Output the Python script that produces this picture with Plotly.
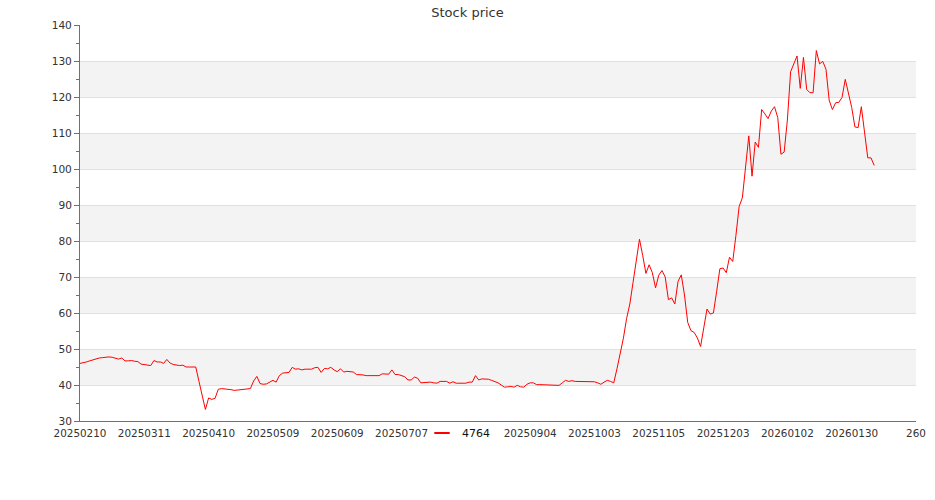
import plotly.graph_objects as go

# ---- data ----
series_name = "4764"

prices = [
    46.0, 46.1, 46.4, 46.7, 47.0, 47.3, 47.5, 47.6, 47.8, 47.8,
    47.7, 47.4, 47.2, 47.5, 46.7, 46.7, 46.8, 46.6, 46.5, 45.8,
    45.6, 45.5, 45.4, 46.8, 46.4, 46.4, 46.0, 47.1, 46.1, 45.7,
    45.5, 45.4, 45.5, 45.0, 45.0, 45.0, 45.0, 41.0, 37.0, 33.2,
    36.4, 36.0, 36.3, 38.8, 39.0, 38.9, 39.0, 38.7, 38.5, 38.6,
    38.7, 38.8, 39.0,
    39.0, 41.1, 42.4, 40.4, 40.2, 40.3, 40.8, 41.3, 40.8, 42.6,
    43.3, 43.5, 43.5, 44.9, 44.4, 44.5, 44.2, 44.4, 44.4, 44.4,
    44.8, 44.9, 43.5, 44.6, 44.5, 44.9, 44.2, 43.7, 44.5, 43.6,
    43.8, 43.8, 43.6, 42.9, 42.9, 42.8, 42.6, 42.6, 42.6, 42.6,
    42.6, 43.1, 43.1, 43.0, 44.2, 42.9, 42.9, 42.6, 42.3, 41.4,
    41.4, 42.2,
    41.9, 40.6, 40.7, 40.7, 40.8, 40.6, 40.5, 41.0, 41.0, 41.0,
    40.5, 40.9, 40.5, 40.5, 40.5, 40.5, 40.8, 40.8, 42.6, 41.4,
    41.7, 41.7, 41.6, 41.3, 41.0, 40.6, 40.0, 39.4, 39.5, 39.6,
    39.4, 39.9, 39.5, 39.4, 40.2, 40.6, 40.6, 40.1, 40.1, 40.1,
    40.0, 39.9, 39.9, 39.9, 39.9, 40.6, 41.3, 41.0, 41.2, 41.0,
    41.0, 41.0, 41.0, 41.1, 41.0, 40.9, 40.6, 40.2, 40.8, 41.3,
    41.0, 40.6,
    44.5, 48.5, 53.0, 58.5, 62.5, 68.5, 74.0, 80.5, 76.0, 71.0,
    73.4, 71.2, 67.0, 70.5, 71.8, 70.0, 63.7, 64.2, 62.5, 68.8,
    70.6, 65.0, 57.4, 55.1, 54.6, 53.1, 50.7, 55.5, 61.1, 59.7,
    60.0, 66.0, 72.3, 72.5, 71.2, 75.5, 74.3, 81.6, 89.6, 92.0,
    100.0, 109.2, 98.0, 107.5, 106.0, 116.5, 115.3, 114.0, 116.1, 117.3,
    114.3, 104.1, 104.7, 113.6, 127.0, 129.5, 131.4, 122.4, 131.0, 122.1,
    121.2, 121.2, 132.9, 129.2, 129.9, 127.7, 119.1, 116.5, 118.4, 118.5,
    119.9, 124.9, 121.2, 117.1, 111.7, 111.5, 117.3, 110.8, 103.1, 103.1,
    101.0,
]

tick_positions = [0, 20, 40, 60, 80, 100, 140, 160, 180, 200, 220, 240, 260]
tick_labels = ["20250210", "20250311", "20250410", "20250509", "20250609",
               "20250707", "20250904", "20251003", "20251105", "20251203",
               "20260102", "20260130", "260"]
axis_last_index = 260

y_min, y_max, y_step = 30, 140, 10

# ---- figure ----
x_idx = list(range(len(prices)))

fig = go.Figure()
fig.add_trace(go.Scatter(
    x=x_idx, y=prices, mode="lines",
    line=dict(color="#ff0000", width=1),
    showlegend=False, name=series_name,
))
# legend entry (short line symbol)
fig.add_trace(go.Scatter(
    x=[None], y=[None], mode="markers", name=series_name,
    marker=dict(symbol="line-ew-open", size=11, color="#ff0000",
                line=dict(color="#ff0000", width=2)),
))

# alternating split areas
for k, lo in enumerate(range(y_min, y_max, y_step)):
    if k % 2 == 1:
        fig.add_shape(type="rect", xref="paper", yref="y",
                      x0=0, x1=1, y0=lo, y1=lo + y_step,
                      fillcolor="#f3f3f3", line=dict(width=0), layer="below")

axis_col = "#6e7079"
font_fam = "DejaVu Sans"

fig.update_layout(
    width=935, height=500,
    margin=dict(l=80, r=19, t=25, b=79, autoexpand=False),
    paper_bgcolor="white", plot_bgcolor="white",
    font=dict(family=font_fam, color="#333333"),
    title=dict(text="Stock price", x=0.5, xanchor="center",
               y=0.976, yanchor="middle",
               font=dict(size=13, color="#333333", family=font_fam)),
    xaxis=dict(
        range=[0, axis_last_index],
        tickmode="array", tickvals=tick_positions, ticktext=tick_labels,
        tickangle=0,
        showline=True, linecolor=axis_col, linewidth=1,
        ticks="outside", ticklen=3, tickcolor="rgba(0,0,0,0)",
        showgrid=False, zeroline=False,
        tickfont=dict(size=10.4, color="#333333"),
    ),
    yaxis=dict(
        range=[y_min, y_max], tick0=y_min, dtick=y_step,
        showgrid=True, gridcolor="#e0e0e0", gridwidth=1,
        showline=True, linecolor=axis_col, linewidth=1,
        ticks="outside", ticklen=5, tickcolor=axis_col,
        minor=dict(dtick=5, tick0=y_min, ticks="outside", ticklen=3,
                   tickcolor=axis_col, showgrid=False),
        zeroline=False,
        tickfont=dict(size=10.6, color="#333333"),
    ),
    legend=dict(
        orientation="h", x=(422 - 80) / 836, xanchor="left",
        y=-0.03, yanchor="middle", itemwidth=30,
        bgcolor="rgba(0,0,0,0)", font=dict(size=11, color="#111111"),
    ),
)

fig.write_html("out.html",
               config={"displayModeBar": False},
               post_script="document.body.style.margin='0px';")
